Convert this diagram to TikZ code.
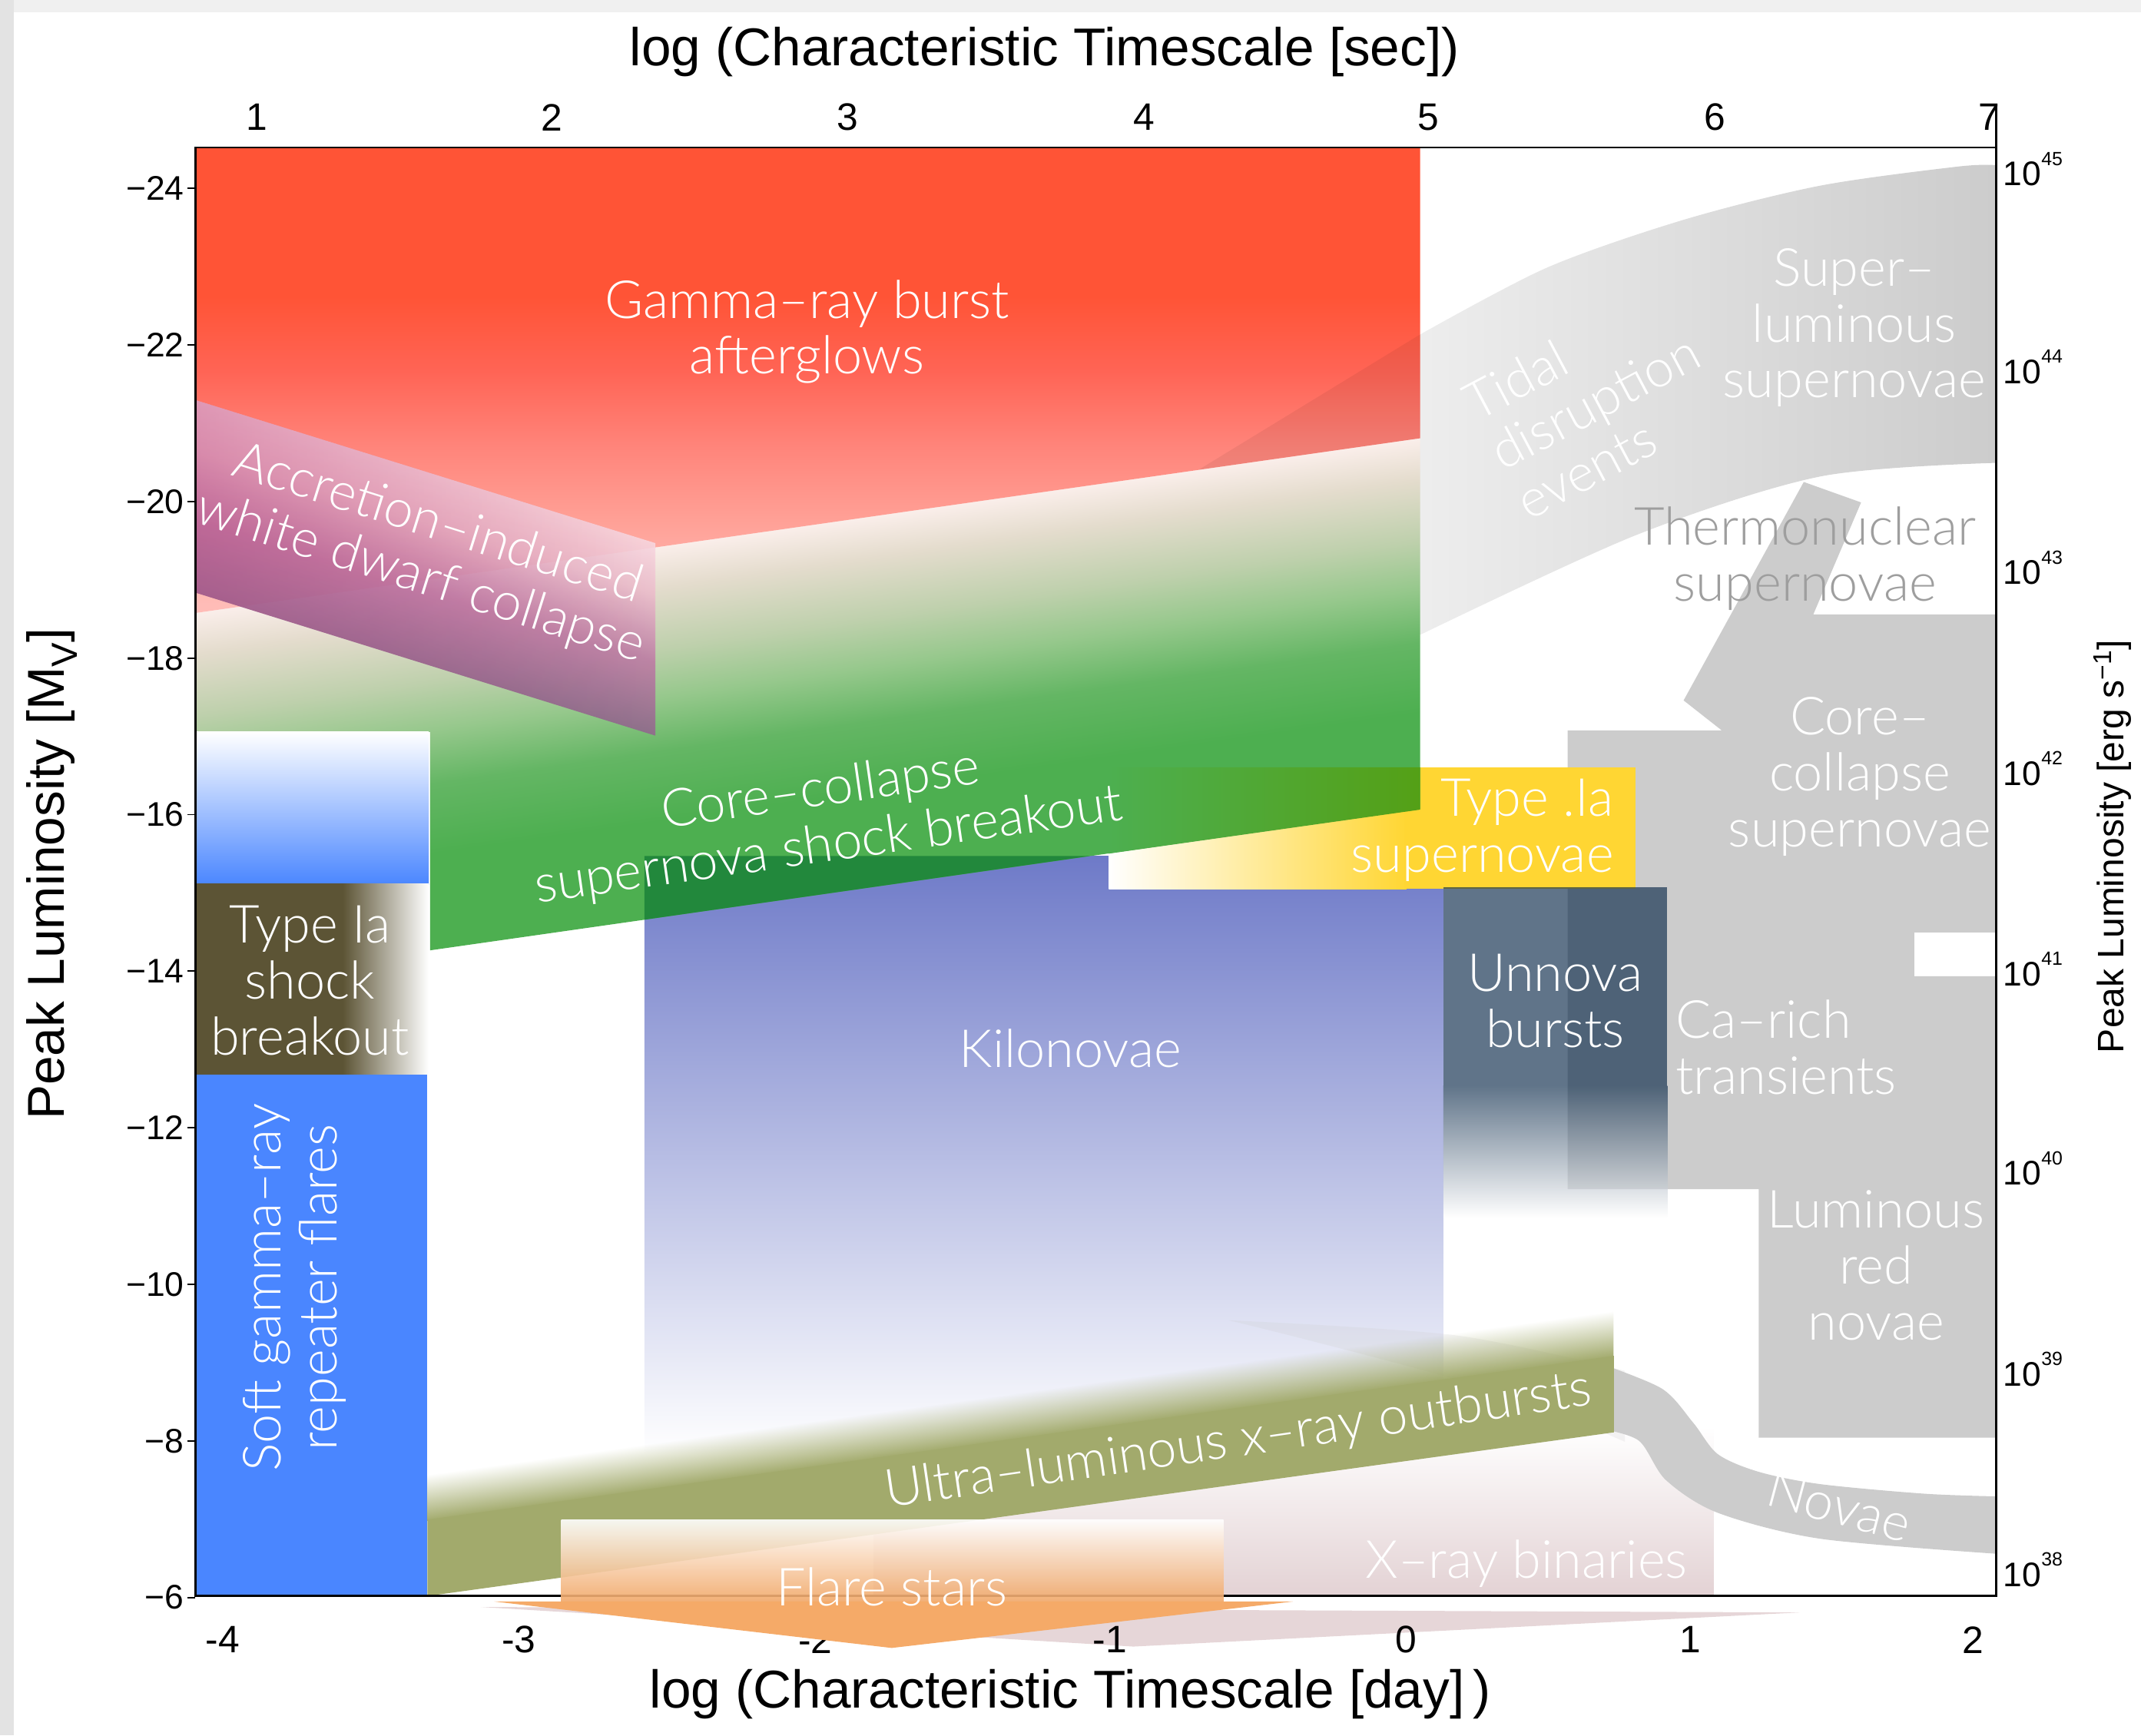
\documentclass[tikz,border=0pt]{standalone}
\usepackage{fontspec}
\setmainfont{Liberation Sans}
\newfontfamily\lightfont{Lato Light}
\usetikzlibrary{fadings}

% colours of the regions
\definecolor{grbred}{RGB}{255,84,54}
\definecolor{grbwarm}{RGB}{255,100,85}
\definecolor{grbmid}{RGB}{255,132,122}
\definecolor{grbpink}{RGB}{255,160,150}
\definecolor{grbfade}{RGB}{255,188,183}
\definecolor{ccgreen}{RGB}{77,175,80}
\definecolor{ccmid}{RGB}{100,182,100}
\definecolor{cclight}{RGB}{150,200,140}
\definecolor{ccsage}{RGB}{190,208,172}
\definecolor{cctan}{RGB}{228,220,205}
\definecolor{ccwhite}{RGB}{250,238,234}
\definecolor{ccolive}{RGB}{84,160,22}
\definecolor{ccdark}{RGB}{34,136,60}
\definecolor{aictop}{RGB}{248,216,224}
\definecolor{aiclight}{RGB}{236,190,204}
\definecolor{aicmid}{RGB}{190,125,165}
\definecolor{aicbottom}{RGB}{145,105,142}
\definecolor{aicmag}{RGB}{185,70,135}
\definecolor{sgrblue}{RGB}{74,134,255}
\definecolor{iabrown}{RGB}{92,84,53}
\definecolor{knblue}{RGB}{110,122,200}
\definecolor{dotiayellow}{RGB}{255,214,51}
\definecolor{unnovaslate}{RGB}{11,42,74}
\definecolor{regiongray}{RGB}{204,204,204}
\definecolor{thermogray}{RGB}{158,158,158}
\definecolor{ulxolive}{RGB}{162,170,108}
\definecolor{flareorange}{RGB}{240,162,94}
\definecolor{flarewedge}{RGB}{245,170,104}
\definecolor{xrbpink}{RGB}{227,210,212}
\definecolor{xrbwedge}{RGB}{230,214,216}

% gradients of the big regions
\pgfdeclareverticalshading{grbshade}{100bp}{color(0bp)=(grbfade); color(26bp)=(grbfade);
  color(35bp)=(grbpink); color(43bp)=(grbmid); color(51bp)=(grbwarm); color(59bp)=(grbred); color(100bp)=(grbred)}
\pgfdeclareverticalshading{ccshade}{100bp}{color(0bp)=(ccgreen); color(38bp)=(ccgreen);
  color(47.4bp)=(ccmid); color(54.7bp)=(cclight); color(61.2bp)=(ccsage); color(69.5bp)=(cctan);
  color(75bp)=(ccwhite); color(100bp)=(ccwhite)}
\pgfdeclareverticalshading{aicshade}{100bp}{color(0bp)=(aicbottom); color(25bp)=(aicbottom);
  color(44bp)=(aicmid); color(62bp)=(aiclight); color(75bp)=(aictop); color(100bp)=(aictop)}

\tikzset{
  regionlabel/.style={font=\lightfont\fontsize{38.5}{41}\selectfont, text=white, align=center, inner sep=0pt},
  ticklabel/.style={font=\fontsize{25}{25}\selectfont, inner sep=0pt},
  timelabel/.style={font=\fontsize{28}{28}\selectfont, inner sep=0pt},
  axistitle/.style={font=\fontsize{39}{39}\selectfont, inner sep=0pt},
  frameline/.style={line width=1.6pt}
}

\begin{document}
\begin{tikzpicture}[x=1pt, y=-1pt]
  \useasboundingbox (0,0) rectangle (1568,1271);

  % Border of the page
  \fill[gray!12] (0,0) rectangle (1568,9);
  \fill[gray!22] (0,0) rectangle (10,1271);

  % Gray regions
  \shade[left color=gray!14, right color=regiongray]
    plot[smooth] coordinates {(1040,245) (1133,196) (1233,161) (1333,136) (1434,122) (1462,121)}
    -- plot[smooth] coordinates {(1462,339) (1333,349) (1198,392) (1040,465)} -- cycle;
  \fill[regiongray] (1148,535) -- (1261,535) -- (1233,513) -- (1321,353) -- (1363,368) -- (1328,450)
    -- (1462,450) -- (1462,683) -- (1402,683) -- (1402,715) -- (1462,715) -- (1462,1053)
    -- (1288,1053) -- (1288,871) -- (1148,871) -- cycle;

  % X-ray binaries
  \shade[top color=white, bottom color=xrbpink] (640,1045) rectangle (1255,1169);
  \fill[xrbwedge] (352,1177) -- (1318,1181) -- (830,1206) -- cycle;

  % Kilonovae
  \shade[top color=knblue, bottom color=white] (472,627) rectangle (1057,1065);

  % Novae, faint part
  \fill[regiongray, fill opacity=0.22] plot[smooth] coordinates {(900,967) (1066,978) (1190,1004)}
    -- plot[smooth] coordinates {(1190,1056) (1130,1031) (1058,1008) (960,982) (900,967)} -- cycle;

  % Type .Ia supernovae
  \shade[left color=white, right color=dotiayellow] (812,562) rectangle (1030,651);
  \fill[dotiayellow] (1029,562) rectangle (1198,651);

  % Core-collapse shock breakout
  \begin{scope}[transform canvas={cm={1,0.1428,0,1,(0pt,-20.42pt)}}]
    \shade[shading=ccshade] (143,449) -- (1040,449) -- (1040,720.6) -- (315,720.6) -- (315,560.6) -- (143,536) -- cycle;
  \end{scope}
  \shade[left color=ccgreen, right color=ccolive] (812,562) -- (1040,562) -- (1040,593) -- (812,625.2) -- cycle;
  \fill[ccdark] (472,627) -- (798,627) -- (472,673.6) -- cycle;

  % Gamma-ray burst afterglows
  \shade[shading=grbshade] (143,108) -- (1040,108) -- (1040,321) -- (143,449) -- cycle;
  \fill[black, fill opacity=0.06] (878,344) -- (1040,245) -- (1040,321) -- cycle;

  % Accretion-induced collapse
  \begin{scope}[transform canvas={cm={1,-0.311,0,1,(0pt,44.47pt)}}]
    \shade[shading=aicshade, fill opacity=0.9] (143,293) rectangle (480,434);
    \fill[aicmag, fill opacity=0.4, path fading=east] (143,293) rectangle (480,434);
  \end{scope}

  % Type Ia shock breakout and SGR flares
  \shade[top color=white, bottom color=sgrblue] (143,536) rectangle (314,648);
  \fill[iabrown] (143,647) rectangle (252,787);
  \shade[left color=iabrown, right color=white] (251,647) rectangle (314,787);
  \fill[sgrblue] (143,787) rectangle (313,1169);

  % Unnova bursts
  \fill[unnovaslate, fill opacity=0.65] (1057,650) rectangle (1221,795);
  \shade[top color=unnovaslate, bottom color=white, fill opacity=0.65] (1057,795) rectangle (1221,892);

  % Novae
  \fill[regiongray] plot[smooth] coordinates {(1170,998) (1217,1017) (1240,1042) (1258,1065) (1288,1078) (1333,1087) (1409,1094) (1462,1096)}
    -- plot[smooth] coordinates {(1462,1138) (1333,1127) (1258,1108) (1220,1084) (1200,1055) (1170,1046)} -- cycle;

  % Ultra-luminous x-ray outbursts
  \begin{scope}[transform canvas={cm={1,0.138,0,1,(0pt,-43.19pt)}}]
    \fill[ulxolive] (313,1113) rectangle (1182,1169);
    \fill[ulxolive, path fading=north] (313,1080) rectangle (1182,1114);
  \end{scope}

  % Frame and axes
  \draw[frameline] (143,108) rectangle (1462,1169);
  \draw[frameline] (1462,108) -- (1462,77);
  \foreach \mag [count=\k from 0] in {24,22,20,18,16,14,12,10,8,6} {
    \draw[line width=1pt] (137,138+114.67*\k) -- (143,138+114.67*\k);
    \node[ticklabel, anchor=east] (mag\mag) at (135,138+114.67*\k) {−\mag};
  }
  \foreach \d/\xx [count=\i] in {-4/163,-3/380,-2/597,-1/813,0/1030,1/1238,2/1445}
    \node[timelabel] (day\i) at (\xx,1201) {\d};
  \foreach \s/\xx in {1/188,2/404,3/621,4/838,5/1046,6/1256,7/1457}
    \node[timelabel] (sec\s) at (\xx,86) {\s};
  \foreach \p/\yy in {45/127,44/272,43/419,42/566,41/713,40/859,39/1006,38/1153}
    \node[ticklabel, anchor=base west] (lum\p) at (1467,\yy+9) {10\raisebox{15pt}{\fontsize{14}{14}\selectfont\p}};

  \node[axistitle] (toptitle) at (765,38) {log (Characteristic Timescale [sec])};
  \node[axistitle] (bottomtitle) at (784,1241) {log (Characteristic Timescale [day]\,)};
  \node[axistitle, font=\fontsize{38}{38}\selectfont, rotate=90] (lefttitle) at (38,640) {Peak Luminosity [M\textsubscript{V}]};
  \node[axistitle, font=\fontsize{27}{27}\selectfont, rotate=90] (righttitle) at (1547,620) {Peak Luminosity [erg s\textsuperscript{−1}]};

  % Flare stars
  \shade[top color=white, bottom color=flareorange, fill opacity=0.9] (411,1113) rectangle (896,1177);
  \fill[flarewedge] (362,1173) -- (947,1173) -- (653,1207) -- cycle;

  % Labels
  \node[regionlabel] (grb) at (591,243) {Gamma–ray burst\\afterglows};
  \node[regionlabel, rotate=-17.5] (aic) at (314,404) {Accretion–induced\\white dwarf collapse};
  \node[regionlabel, rotate=8.1] (ccsb) at (604,600) {Core–collapse\\supernova shock breakout};
  \node[regionlabel] (iasb) at (227,718) {Type Ia\\shock\\breakout};
  \node[regionlabel, rotate=90] (sgr) at (216,943) {Soft gamma–ray\\repeater flares};
  \node[regionlabel] (kn) at (784,768) {Kilonovae};
  \node[regionlabel, align=right, anchor=east] (dotia) at (1182,608) {Type .Ia\\supernovae};
  \node[regionlabel] (unnova) at (1139,733) {Unnova\\bursts};
  \node[regionlabel, align=left, rotate=28] (tde) at (1168,294) {Tidal\\disruption\\events};
  \node[regionlabel] (slsn) at (1358,240) {Super–\\luminous\\supernovae};
  \node[regionlabel, text=thermogray] (thermo) at (1322,409) {Thermonuclear\\supernovae};
  \node[regionlabel] (ccsn) at (1362,569) {Core–\\collapse\\supernovae};
  \node[regionlabel, align=left, anchor=west] (carich) at (1227,767) {Ca–rich\\transients};
  \node[regionlabel] (lrn) at (1374,927) {Luminous\\red\\novae};
  \node[regionlabel, rotate=-15] (novae) at (1347,1103) {Novae};
  \node[regionlabel] (xrb) at (1118,1145) {X–ray binaries};
  \node[regionlabel] (flare) at (653,1162) {Flare stars};
  \node[regionlabel, rotate=8.3] (ulx) at (907,1056) {Ultra–luminous x–ray outbursts};
\end{tikzpicture}
\end{document}
